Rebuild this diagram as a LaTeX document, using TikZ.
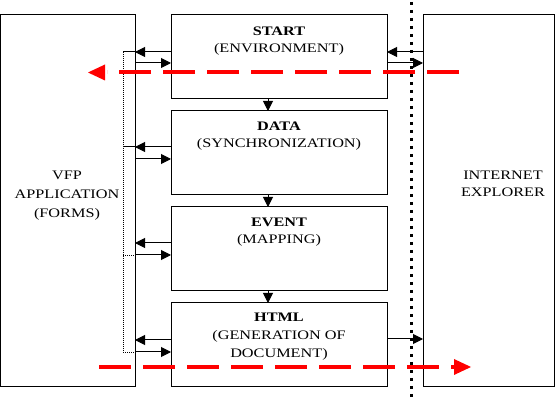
\documentclass[tikz,border=0pt]{standalone}
\usepackage{fontspec}
\setmainfont{Liberation Serif}[FakeStretch=1.25]
\usetikzlibrary{arrows.meta}
\begin{document}
\begin{tikzpicture}[x=1pt,y=-1pt,
  box/.style={draw, line width=1pt, anchor=north west, inner sep=0pt, outer sep=0pt},
  arr/.style={line width=1pt, -{Triangle[length=10pt,width=10pt]}},
  plain/.style={line width=1pt},
  dots/.style={line width=0.8pt, dash pattern=on 1pt off 1pt},
  lbl/.style={font=\fontsize{13}{17}\selectfont, anchor=base, inner sep=0pt},
  reddash/.style={red, line width=4pt, dash pattern=on 32pt off 12pt},
  sep/.style={line width=3pt, dash pattern=on 3pt off 5pt}
]
\useasboundingbox (0,0) rectangle (555,403);
% boxes
\node[box, minimum width=134.5pt, minimum height=372pt] (vfp) at (0.5,15) {};
\node[box, minimum width=216pt, minimum height=84pt] (start) at (171,15) {};
\node[box, minimum width=216pt, minimum height=84pt] (data) at (171,111) {};
\node[box, minimum width=216pt, minimum height=84pt] (event) at (171,207) {};
\node[box, minimum width=216pt, minimum height=84pt] (html) at (171,303) {};
\node[box, minimum width=131pt, minimum height=372pt] (ie) at (423,15) {};
% texts
\node[lbl] (t1) at (279,36) {\textbf{START}};
\node[lbl] (t2) at (279,53) {(ENVIRONMENT)};
\node[lbl] (t3) at (279,131) {\textbf{DATA}};
\node[lbl] (t4) at (279,148) {(SYNCHRONIZATION)};
\node[lbl] (t5) at (279,227) {\textbf{EVENT}};
\node[lbl] (t6) at (279,244) {(MAPPING)};
\node[lbl] (t7) at (279,322) {\textbf{HTML}};
\node[lbl] (t8) at (279,340) {(GENERATION OF};
\node[lbl] (t9) at (279,358) {DOCUMENT)};
\node[lbl] (t10) at (67,180) {VFP};
\node[lbl] (t11) at (67,199) {APPLICATION};
\node[lbl] (t12) at (67,218) {(FORMS)};
\node[lbl] (t13) at (503,180) {INTERNET};
\node[lbl] (t14) at (503,197) {EXPLORER};
% helper coordinates
\coordinate (dotx) at (123,0);
\coordinate (dx) at (268,0);
\coordinate (ya) at (0,52);
\coordinate (yb) at (0,63);
\coordinate (yc) at (0,147);
\coordinate (yd) at (0,159);
\coordinate (ye) at (0,243);
\coordinate (yf) at (0,255);
\coordinate (yg) at (0,340);
\coordinate (yh) at (0,352);
\coordinate (yi) at (0,339);
% left arrows
\draw[arr] (start.west |- ya) -- (vfp.east |- ya);
\draw[arr] (vfp.east |- yb) -- (start.west |- yb);
\draw[arr] (data.west |- yc) -- (vfp.east |- yc);
\draw[arr] (vfp.east |- yd) -- (data.west |- yd);
\draw[arr] (event.west |- ye) -- (vfp.east |- ye);
\draw[arr] (vfp.east |- yf) -- (event.west |- yf);
\draw[arr] (html.west |- yg) -- (vfp.east |- yg);
\draw[arr] (vfp.east |- yh) -- (html.west |- yh);
% bracket
\draw[plain] (vfp.east |- ya) -- (dotx |- ya);
\draw[plain] (vfp.east |- yc) -- (dotx |- yc);
\draw[dots] (dotx |- ya) -- (dotx |- yh);
\draw[dots] (dotx |- yf) -- (vfp.east |- yf);
\draw[dots] (dotx |- yh) -- (vfp.east |- yh);
% down arrows
\draw[arr] (start.south -| dx) -- (data.north -| dx);
\draw[arr] (data.south -| dx) -- (event.north -| dx);
\draw[arr] (event.south -| dx) -- (html.north -| dx);
% right arrows
\draw[arr] (ie.west |- ya) -- (start.east |- ya);
\draw[arr] (start.east |- yb) -- (ie.west |- yb);
\draw[arr] (html.east |- yi) -- (ie.west |- yi);
% separator
\coordinate (sepa) at (411,2);
\coordinate (sepb) at (411,397);
\draw[sep] (sepa) -- (sepb);
% red flows
\coordinate (r1s) at (459,72.5);
\coordinate (r1e) at (107,72.5);
\coordinate (r1t) at (88,72.5);
\draw[reddash] (r1s) -- (r1e);
\fill[red] (r1t) -- ++(17,-8) -- ++(0,16) -- cycle;
\coordinate (r2s) at (99,367);
\coordinate (r2e) at (455,367);
\coordinate (r2t) at (471,367);
\draw[reddash] (r2s) -- (r2e);
\fill[red] (r2t) -- ++(-17,-8) -- ++(0,16) -- cycle;
\end{tikzpicture}
\end{document}
